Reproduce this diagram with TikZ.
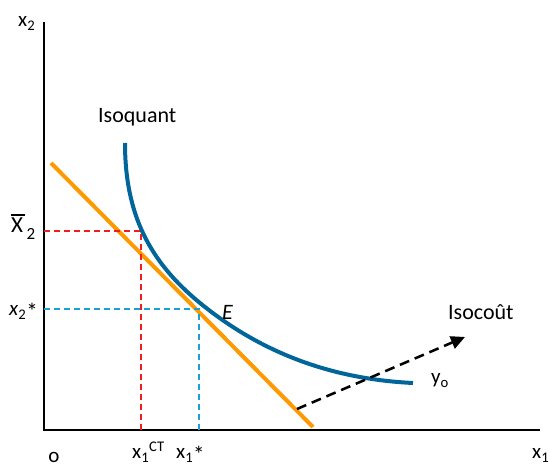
\documentclass[tikz,border=0pt]{standalone}
\usepackage{fontspec}
\setmainfont{Carlito}
\usetikzlibrary{arrows.meta}
\definecolor{isoblue}{RGB}{0,102,153}
\definecolor{isoorange}{RGB}{255,153,0}
\definecolor{guidered}{RGB}{240,30,30}
\definecolor{guidecyan}{RGB}{30,160,215}
\newcommand{\lowstar}{\raisebox{-3.5pt}{\fontsize{23}{25}\selectfont *}}
\newcommand{\barX}{\rlap{\raisebox{17pt}{\rule{14pt}{1.6pt}}}X}

\begin{document}
\begin{tikzpicture}[x=1pt,y=-1pt,>={Triangle[length=14pt,width=13pt]},
    lbl/.style={inner sep=0pt,font=\fontsize{21}{24}\selectfont},
    biglbl/.style={inner sep=0pt,font=\fontsize{22}{25}\selectfont},
    guide/.style={line width=2pt,dash pattern=on 6pt off 4pt}]
  \useasboundingbox (0,0) rectangle (550,468);
  % axes
  \coordinate (origin) at (44,430);
  \coordinate (ytop) at (44,22);
  \coordinate (xend) at (540,430);
  \draw[line width=2pt] (ytop) -- (origin) -- (xend);
  % isoquant
  \coordinate (qtop) at (125,143);
  \coordinate (qE) at (200,303);
  \coordinate (qend) at (413,383);
  \draw[isoblue,line width=4pt] (qtop) .. controls (125,215) and (150,262) .. (qE)
    .. controls (260,352) and (330,379) .. (qend);
  % isocost line
  \coordinate (isostart) at (51,163);
  \coordinate (isoend) at (313,427);
  \draw[isoorange,line width=4pt] (isostart) -- (isoend);
  % guide lines
  \draw[guidered,guide] (44,231) -- (141,231) -- (141,430);
  \draw[guidecyan,guide] (44,309) -- (199,309) -- (199,430);
  % shift of the isocost
  \coordinate (shiftstart) at (297,409);
  \coordinate (shiftend) at (465,337);
  \draw[->,line width=2.5pt,dash pattern=on 10pt off 6pt] (shiftstart) -- (shiftend);
  % labels
  \node[lbl,anchor=base west] (ylab) at (18,27) {x\textsubscript{2}};
  \node[lbl,anchor=base west] (xbar) at (11,233) {{\fontsize{23}{26}\selectfont\barX}\,\raisebox{-7pt}{\fontsize{17}{19}\selectfont 2}};
  \node[lbl,anchor=base west] (xtwostar) at (9,316) {\textit{x}\textsubscript{2}\lowstar};
  \node[lbl,anchor=base] (olab) at (54,463) {o};
  \node[lbl,anchor=base west] (xct) at (132,459) {x\textsubscript{1}\textsuperscript{CT}};
  \node[lbl,anchor=base west] (xonestar) at (176,459) {x\textsubscript{1}\lowstar};
  \node[lbl,anchor=base west] (xlab) at (532,459) {x\textsubscript{1}};
  \node[biglbl,anchor=base west] (isoq) at (98,123) {Isoquant};
  \node[biglbl,anchor=base west] (elab) at (222,320) {\textit{E}};
  \node[biglbl,anchor=base west] (isoc) at (448,320) {Isocoût};
  \node[lbl,anchor=base west] (yolab) at (431,384) {y\textsubscript{o}};
\end{tikzpicture}
\end{document}
